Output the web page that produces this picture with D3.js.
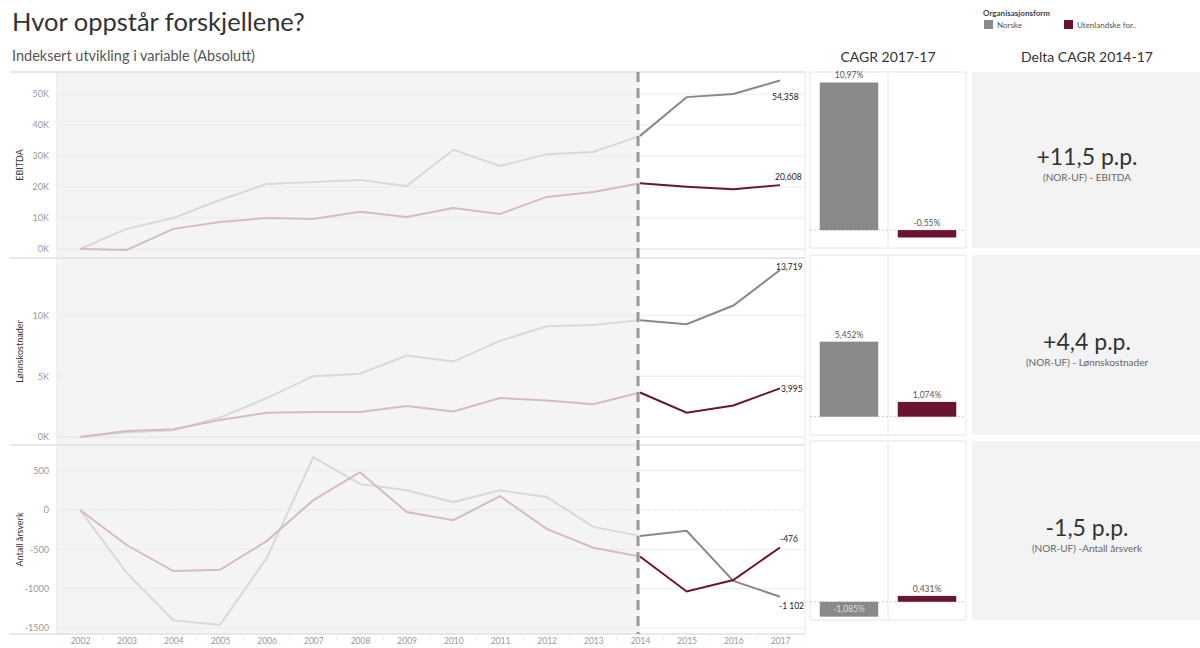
<!DOCTYPE html>
<html>
<head>
<meta charset="utf-8">
<script src="https://cdn.jsdelivr.net/npm/d3@7"></script>
<style>
body { margin: 0; background: #fff; }
svg { font-family: "Lato", "Open Sans", sans-serif; }
</style>
</head>
<body>
<div id="chart"></div>
<script>
// data
let years = [2002, 2003, 2004, 2005, 2006, 2007, 2008, 2009, 2010, 2011, 2012, 2013, 2014, 2015, 2016, 2017];
let ebitdaNorske = [0, 6500, 10000, 15800, 21000, 21600, 22300, 20300, 32000, 26800, 30600, 31300, 36500, 49000, 50000, 54358];
let ebitdaUtenl = [0, -300, 6500, 8700, 10000, 9700, 12000, 10300, 13200, 11300, 16800, 18400, 21200, 20100, 19300, 20608];
let lonnNorske = [0, 400, 570, 1600, 3200, 5000, 5200, 6700, 6200, 7900, 9100, 9200, 9600, 9260, 10800, 13719];
let lonnUtenl = [0, 500, 650, 1400, 2000, 2050, 2050, 2550, 2100, 3200, 3000, 2700, 3660, 2000, 2600, 3995];
let arsverkNorske = [0, -800, -1400, -1460, -610, 670, 330, 250, 100, 250, 165, -215, -330, -265, -900, -1102];
let arsverkUtenl = [0, -445, -775, -760, -395, 125, 480, -25, -130, 175, -240, -480, -590, -1035, -890, -476];

let variables = ["EBITDA", "Lønnskostnader", "Antall årsverk"];
let endLabelsNorske = ["54,358", "13,719", "-1 102"];
let endLabelsUtenl = ["20,608", "3,995", "-476"];
let yTicks = [[0, 10000, 20000, 30000, 40000, 50000], [0, 5000, 10000], [-1500, -1000, -500, 0, 500]];
let yDomains = [[-2900, 57100], [-650, 14700], [-1575, 825]];

let groups = ["Norske", "Utenlandske for.."];
let cagrNorske = [10.97, 5.452, -1.085];
let cagrUtenl = [-0.55, 1.074, 0.431];
let cagrLabelsNorske = ["10,97%", "5,452%", "-1,085%"];
let cagrLabelsUtenl = ["-0,55%", "1,074%", "0,431%"];

let deltaLabels = ["+11,5 p.p.", "+4,4 p.p.", "-1,5 p.p."];
let deltaSubs = ["(NOR-UF) - EBITDA", "(NOR-UF) - Lønnskostnader", "(NOR-UF) -Antall årsverk"];

function main(){
    let colNor = "#898989";
    let colUt = "#6b1432";
    let fadeNor = "#d9d9d9";
    let fadeUt = "#d5bcc3";
    let splitYear = 2014;

    let svg = d3.select("#chart").append("svg")
        .attr("width", 1200)
        .attr("height", 648);

    // titles
    svg.append("text").attr("x", 12).attr("y", 31)
        .attr("font-size", 25.5).attr("fill", "#333")
        .text("Hvor oppstår forskjellene?");
    svg.append("text").attr("x", 12).attr("y", 61)
        .attr("font-size", 14.5).attr("fill", "#555")
        .text("Indeksert utvikling i variable (Absolutt)");
    svg.append("text").attr("x", 888).attr("y", 62)
        .attr("text-anchor", "middle").attr("font-size", 14).attr("fill", "#333")
        .text("CAGR 2017-17");
    svg.append("text").attr("x", 1087).attr("y", 62)
        .attr("text-anchor", "middle").attr("font-size", 14).attr("fill", "#333")
        .text("Delta CAGR 2014-17");

    // legend
    let legend = svg.append("g").attr("transform", "translate(983, 0)");
    legend.append("text").attr("x", 0).attr("y", 16)
        .attr("font-size", 8).attr("font-weight", "bold").attr("fill", "#444")
        .text("Organisasjonsform");
    [colNor, colUt].forEach(function(c, i){
        legend.append("rect").attr("x", 1 + i * 80).attr("y", 20)
            .attr("width", 9).attr("height", 9).attr("fill", c);
        legend.append("text").attr("x", 14 + i * 80).attr("y", 28)
            .attr("font-size", 8).attr("fill", "#555").text(groups[i]);
    });

    // line chart panels
    let plotLeft = 57, plotRight = 805;
    let panels = [[72, 258], [258, 445], [445, 634]];
    let x = d3.scaleLinear().domain([years[0], years[years.length - 1]]).range([80, 780]);
    let seriesNor = [ebitdaNorske, lonnNorske, arsverkNorske];
    let seriesUt = [ebitdaUtenl, lonnUtenl, arsverkUtenl];
    let labelOffsetNor = [[-8, 17], [-4, -3], [-1, 9]];
    let labelOffsetUt = [[-5, -8], [1, 1], [0, -8]];
    let splitIdx = years.indexOf(splitYear);

    panels.forEach(function(p, i){
        let y = d3.scaleLinear().domain(yDomains[i]).range([p[1], p[0]]);
        let g = svg.append("g");

        g.append("rect").attr("x", plotLeft).attr("y", p[0])
            .attr("width", x(splitYear) - plotLeft).attr("height", p[1] - p[0])
            .attr("fill", "#f4f4f4");

        // gridlines
        g.selectAll(".grid").data(yTicks[i]).enter().append("line")
            .attr("x1", plotLeft).attr("x2", plotRight)
            .attr("y1", d => y(d)).attr("y2", d => y(d))
            .attr("stroke", d => d === 0 ? "#e2e2e2" : "#ebebeb")
            .attr("stroke-dasharray", d => (d === 0 && i === 2) ? "2,1" : null);

        // separators
        g.append("line").attr("x1", 10).attr("x2", plotRight)
            .attr("y1", p[0]).attr("y2", p[0]).attr("stroke", "#e0e0e0").attr("stroke-width", 1.5);
        g.append("line").attr("x1", plotLeft).attr("x2", plotLeft)
            .attr("y1", p[0]).attr("y2", p[1]).attr("stroke", "#e6e6e6");
        g.append("line").attr("x1", plotRight).attr("x2", plotRight)
            .attr("y1", p[0]).attr("y2", p[1]).attr("stroke", "#e6e6e6");

        // y axis
        let axis = g.append("g").attr("transform", "translate(" + (plotLeft - 5) + ",0)")
            .call(d3.axisLeft(y).tickValues(yTicks[i]).tickSize(0)
                .tickFormat(function(d){ return i < 2 ? (d / 1000) + "K" : d3.format("d")(d).replace("−", "-"); }));
        axis.select(".domain").remove();
        axis.selectAll("text").attr("fill", "#999").attr("font-size", 9)
            .attr("font-family", "Lato, sans-serif");

        g.append("text")
            .attr("transform", "translate(23," + ((p[0] + p[1]) / 2) + ") rotate(-90)")
            .attr("text-anchor", "middle").attr("font-size", 9).attr("fill", "#333")
            .text(variables[i]);

        let lineFrom = d3.line().x(d => x(d[0])).y(d => y(d[1]));

        [[seriesNor[i], fadeNor, colNor], [seriesUt[i], fadeUt, colUt]].forEach(function(s){
            let pts = years.map((yr, j) => [yr, s[0][j]]);
            g.append("path").attr("d", lineFrom(pts.slice(0, splitIdx + 1)))
                .attr("fill", "none").attr("stroke", s[1]).attr("stroke-width", 2);
            g.append("path").attr("d", lineFrom(pts.slice(splitIdx)))
                .attr("fill", "none").attr("stroke", s[2]).attr("stroke-width", 2);
        });

        let last = years.length - 1;
        g.append("text")
            .attr("x", x(years[last]) + labelOffsetNor[i][0])
            .attr("y", y(seriesNor[i][last]) + labelOffsetNor[i][1])
            .attr("dy", "0.35em").attr("font-size", 8.5).attr("fill", "#222")
            .text(endLabelsNorske[i]);
        g.append("text")
            .attr("x", x(years[last]) + labelOffsetUt[i][0])
            .attr("y", y(seriesUt[i][last]) + labelOffsetUt[i][1])
            .attr("dy", "0.35em").attr("font-size", 8.5).attr("fill", "#222")
            .text(endLabelsUtenl[i]);
    });

    // bottom line + x axis
    svg.append("line").attr("x1", 10).attr("x2", plotRight)
        .attr("y1", 634).attr("y2", 634).attr("stroke", "#e0e0e0").attr("stroke-width", 1.5);
    let xAxis = svg.append("g").attr("transform", "translate(0,634)")
        .call(d3.axisBottom(x).tickValues(years).tickFormat(d3.format("d")).tickSize(0).tickPadding(4));
    xAxis.select(".domain").remove();
    xAxis.selectAll("text").attr("fill", "#999").attr("font-size", 8.5)
        .attr("font-family", "Lato, sans-serif");
    svg.selectAll(".xtick").data(years.slice(1)).enter().append("line")
        .attr("x1", d => x(d) - (x(2003) - x(2002)) / 2).attr("x2", d => x(d) - (x(2003) - x(2002)) / 2)
        .attr("y1", 634).attr("y2", 640).attr("stroke", "#eee");

    // dashed divider at 2014
    svg.append("line").attr("x1", x(splitYear) - 2).attr("x2", x(splitYear) - 2)
        .attr("y1", 72).attr("y2", 634)
        .attr("stroke", "#999").attr("stroke-width", 3).attr("stroke-dasharray", "10,6");

    // CAGR bars
    let barPanels = [[72, 248], [255, 435], [441, 620]];
    let xb = d3.scaleBand().domain(groups).range([810, 966]).paddingInner(0.25).paddingOuter(0.125);
    barPanels.forEach(function(p, i){
        let yb = d3.scaleLinear().domain([-1.33, 11.75]).range([p[1], p[0]]);
        let g = svg.append("g");
        g.append("rect").attr("x", 810).attr("y", p[0]).attr("width", 156).attr("height", p[1] - p[0])
            .attr("fill", "#fff").attr("stroke", "#e6e6e6");
        g.append("line").attr("x1", 888).attr("x2", 888).attr("y1", p[0]).attr("y2", p[1])
            .attr("stroke", "#e6e6e6");
        g.append("line").attr("x1", 810).attr("x2", 966).attr("y1", yb(0)).attr("y2", yb(0))
            .attr("stroke", "#ccc").attr("stroke-dasharray", "2,2");

        let vals = [cagrNorske[i], cagrUtenl[i]];
        let labs = [cagrLabelsNorske[i], cagrLabelsUtenl[i]];
        let cols = [colNor, colUt];
        groups.forEach(function(grp, j){
            let v = vals[j];
            g.append("rect").attr("x", xb(grp)).attr("width", xb.bandwidth())
                .attr("y", yb(Math.max(0, v))).attr("height", Math.abs(yb(v) - yb(0)))
                .attr("fill", cols[j]);
            let inside = v < 0 && Math.abs(yb(v) - yb(0)) > 12;
            g.append("text").attr("x", xb(grp) + xb.bandwidth() / 2)
                .attr("y", inside ? (yb(0) + yb(v)) / 2 + 3 : yb(Math.max(0, v)) - 4)
                .attr("text-anchor", "middle").attr("font-size", 8.5)
                .attr("fill", inside ? "#ddd" : "#555")
                .text(labs[j]);
        });

        // delta boxes
        let d = svg.append("g");
        d.append("rect").attr("x", 972).attr("y", p[0]).attr("width", 228).attr("height", p[1] - p[0])
            .attr("fill", "#f3f3f3");
        let cy = (p[0] + p[1]) / 2;
        d.append("text").attr("x", 1087).attr("y", cy + 5)
            .attr("text-anchor", "middle").attr("font-size", 23).attr("fill", "#333")
            .text(deltaLabels[i]);
        d.append("text").attr("x", 1087).attr("y", cy + 21)
            .attr("text-anchor", "middle").attr("font-size", 10).attr("fill", "#666")
            .text(deltaSubs[i]);
    });
}

main();
</script>
</body>
</html>
